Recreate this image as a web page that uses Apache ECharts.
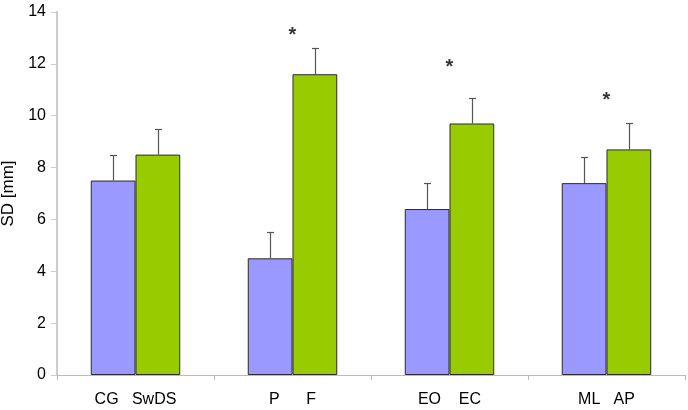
<!DOCTYPE html>
<html>
<head>
<meta charset="utf-8">
<script src="https://cdn.jsdelivr.net/npm/echarts@6/dist/echarts.min.js"></script>
<style>
html,body{margin:0;padding:0;background:#fff;}
#c{width:688px;height:410px;}
</style>
</head>
<body>
<div id="c"></div>
<script>
var categories = ['CG   SwDS', 'P      F', 'EO    EC', 'ML   AP'];
var valuesA = [7.5, 4.5, 6.4, 7.4];
var valuesB = [8.5, 11.6, 9.7, 8.7];
var errA = [1.0, 1.0, 1.0, 1.0];
var errB = [1.0, 1.0, 1.0, 1.0];
var starValues = [null, 13.1, 11.85, 10.6];
var yTicks = [0, 2, 4, 6, 8, 10, 12, 14];

var FONT = '"Liberation Sans", Arial, sans-serif';
var chart = echarts.init(document.getElementById('c'), null, {renderer: 'canvas'});

function errSeries(vals, errs, side) {
  return {
    type: 'custom',
    z: 5,
    silent: true,
    data: vals.map(function (v, i) { return [i, v, v + errs[i]]; }),
    renderItem: function (params, api) {
      var bw = api.size([1, 0])[0];
      var off = side * bw * 0.1425;
      var p0 = api.coord([api.value(0), api.value(1)]);
      var p1 = api.coord([api.value(0), api.value(2)]);
      var x = Math.round(p0[0] + off) + 0.5;
      var y1 = Math.round(p1[1]) + 0.5;
      var style = {stroke: '#555', lineWidth: 1.2};
      return {
        type: 'group',
        children: [
          {type: 'line', shape: {x1: x, y1: p0[1], x2: x, y2: y1}, style: style},
          {type: 'line', shape: {x1: x - 3.5, y1: y1, x2: x + 3.5, y2: y1}, style: style}
        ]
      };
    }
  };
}

var option = {
  animation: false,
  backgroundColor: '#fff',
  textStyle: {fontFamily: FONT},
  grid: {left: 57, right: 3, top: 12, bottom: 35, containLabel: false, outerBoundsMode: 'none'},
  xAxis: {
    type: 'category',
    data: categories,
    axisLine: {show: true, lineStyle: {color: '#bbb', width: 1}},
    axisTick: {show: true, length: 5, lineStyle: {color: '#bbb'}},
    axisLabel: {show: true, color: '#000', fontSize: 16, margin: 17, fontFamily: FONT, interval: 0},
    splitLine: {show: false}
  },
  yAxis: {
    type: 'value',
    min: yTicks[0],
    max: yTicks[yTicks.length - 1],
    interval: 2,
    name: 'SD [mm]',
    nameLocation: 'middle',
    nameGap: 39,
    nameTextStyle: {color: '#000', fontSize: 17, fontFamily: FONT},
    axisLine: {show: true, lineStyle: {color: '#ccc', width: 2}},
    axisTick: {show: true, length: 6, lineStyle: {color: '#ccc'}},
    axisLabel: {color: '#000', fontSize: 16, margin: 11, fontFamily: FONT},
    splitLine: {show: false}
  },
  series: [
    {
      type: 'bar',
      data: valuesA,
      barGap: '0%',
      barCategoryGap: '43%',
      itemStyle: {color: '#9999FF', borderColor: '#2a2a2a', borderWidth: 1}
    },
    {
      type: 'bar',
      data: valuesB,
      itemStyle: {color: '#99CC00', borderColor: '#2a2a2a', borderWidth: 1}
    },
    errSeries(valuesA, errA, -1),
    errSeries(valuesB, errB, 1),
    {
      type: 'scatter',
      symbolSize: 1,
      itemStyle: {color: 'rgba(0,0,0,0)'},
      data: starValues.map(function (v, i) { return v == null ? null : [i, v]; }),
      label: {
        show: true, position: 'inside', formatter: '*',
        color: '#000', fontSize: 20, fontWeight: 'bold', fontFamily: FONT
      }
    }
  ]
};
chart.setOption(option);
</script>
</body>
</html>
